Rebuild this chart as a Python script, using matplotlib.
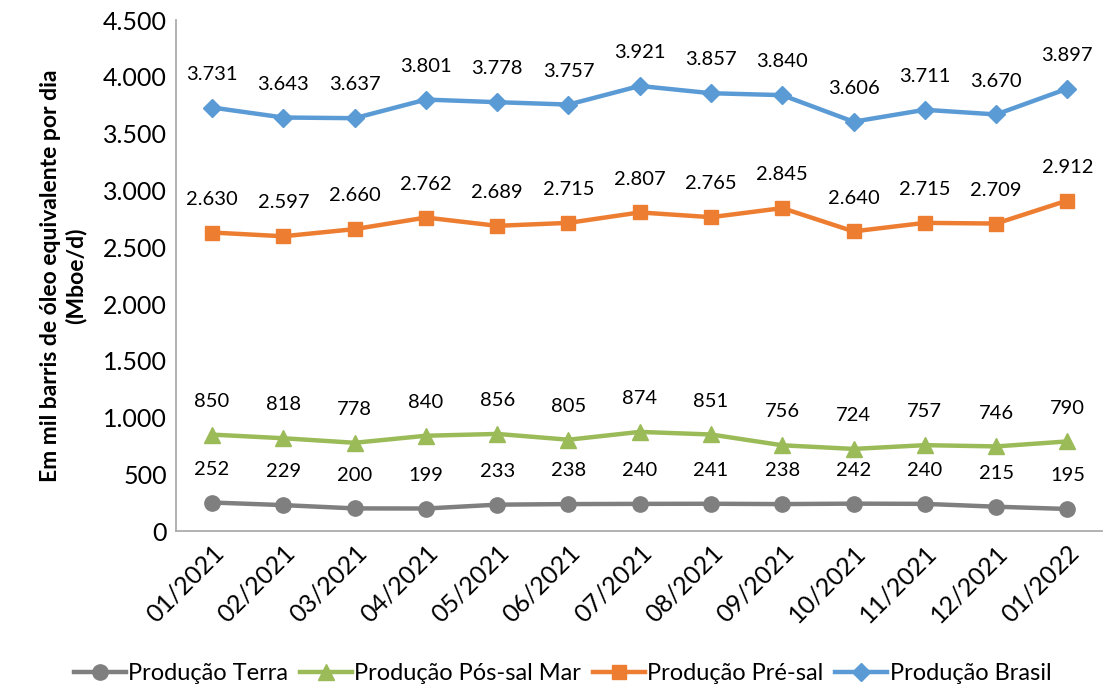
import matplotlib
matplotlib.use("Agg")
import matplotlib.pyplot as plt
import numpy as np

meses = ["01/2021", "02/2021", "03/2021", "04/2021", "05/2021", "06/2021", "07/2021",
         "08/2021", "09/2021", "10/2021", "11/2021", "12/2021", "01/2022"]
terra = [252, 229, 200, 199, 233, 238, 240, 241, 238, 242, 240, 215, 195]
pos_sal = [850, 818, 778, 840, 856, 805, 874, 851, 756, 724, 757, 746, 790]
pre_sal = [2630, 2597, 2660, 2762, 2689, 2715, 2807, 2765, 2845, 2640, 2715, 2709, 2912]
brasil = [3731, 3643, 3637, 3801, 3778, 3757, 3921, 3857, 3840, 3606, 3711, 3670, 3897]

plt.rcParams['font.family'] = ['Lato', 'DejaVu Sans']

def fmt(v):
    return "{:,}".format(int(v)).replace(",", ".")

fig = plt.figure(figsize=(11.03, 6.97), dpi=100)
ax = fig.add_axes([0.16, 0.238, 0.84, 0.733])

x = np.arange(len(meses))
series = [
    ("Produção Terra", terra, "#7F7F7F", "o", 11),
    ("Produção Pós-sal Mar", pos_sal, "#9BBB59", "^", 11),
    ("Produção Pré-sal", pre_sal, "#ED7D31", "s", 10),
    ("Produção Brasil", brasil, "#5B9BD5", "D", 9),
]
for nome, vals, cor, mk, ms in series:
    ax.plot(x, vals, color=cor, lw=3.2, marker=mk, markersize=ms, label=nome)
    for xi, v in zip(x, vals):
        ax.annotate(fmt(v), (xi, v), xytext=(0, 24), textcoords="offset points",
                    ha="center", va="center", fontsize=14.5)

ax.set_xlim(-0.5, len(meses) - 0.5)
ax.set_ylim(0, 4500)
ax.set_yticks(np.arange(0, 4501, 500))
ax.set_yticklabels([fmt(v) for v in np.arange(0, 4501, 500)], fontsize=18)
ax.set_xticks(x)
ax.set_xticklabels(meses, rotation=45, ha="right", rotation_mode="anchor", fontsize=18)
ax.tick_params(axis="both", length=0, pad=7)
for s in ["top", "right"]:
    ax.spines[s].set_visible(False)
for s in ["left", "bottom"]:
    ax.spines[s].set_color("#A6A6A6")
    ax.spines[s].set_linewidth(1.2)

ax.set_ylabel("Em mil barris de óleo equivalente por dia\n(Mboe/d)", fontsize=16.5,
              fontweight="bold", labelpad=12)

fig.legend(loc="lower center", bbox_to_anchor=(0.51, -0.012), ncol=4, frameon=False,
           fontsize=17, handlelength=2.2, handletextpad=0.1, columnspacing=0.5)

fig.savefig("out.png", dpi=100)
